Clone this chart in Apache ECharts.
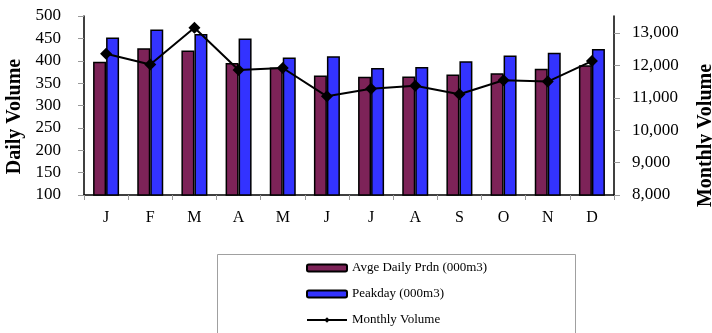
<!DOCTYPE html>
<html>
<head>
<meta charset="utf-8">
<script src="https://cdn.jsdelivr.net/npm/echarts@6/dist/echarts.min.js"></script>
<style>
html,body{margin:0;padding:0;background:#fff;}
#chart{width:712px;height:333px;}
</style>
</head>
<body>
<div id="chart"></div>
<script>
var months = ['J','F','M','A','M','J','J','A','S','O','N','D'];
var avgDaily = [398, 428, 423, 395, 385, 367, 364, 365, 369, 372, 382, 390];
var peakDay = [452, 470, 460, 450, 407, 410, 384, 386, 399, 412, 418, 426];
var monthlyVolume = [12360, 12030, 13160, 11860, 11920, 11045, 11280, 11370, 11110, 11540, 11500, 12135];
var leftTicks = {min: 100, max: 500, interval: 50};
var rightTicks = {min: 8000, max: 13525, interval: 1000};

var FONT = '"Liberation Serif", "Times New Roman", serif';
var chart = echarts.init(document.getElementById('chart'), null, {renderer: 'canvas'});
chart.setOption({
  animation: false,
  backgroundColor: '#fff',
  grid: {left: 84, right: 98, top: 16, bottom: 138, containLabel: false, outerBoundsMode: 'none'},
  legend: {
    orient: 'vertical',
    left: 306,
    top: 261,
    height: 72,
    padding: 0,
    itemWidth: 40,
    itemHeight: 7,
    itemGap: 12,
    textStyle: {fontFamily: FONT, fontSize: 13, lineHeight: 14, color: '#000'},
    data: ['Avge Daily Prdn (000m3)', 'Peakday (000m3)', 'Monthly Volume']
  },
  graphic: [{
    type: 'rect',
    shape: {x: 217.5, y: 254.5, width: 358, height: 100},
    style: {fill: 'none', stroke: '#a0a0a0', lineWidth: 1},
    silent: true
  }],
  xAxis: {
    type: 'category',
    data: months,
    boundaryGap: true,
    axisLine: {lineStyle: {color: '#000', width: 1.5}},
    axisTick: {show: true, length: 5, lineStyle: {color: '#999'}},
    axisLabel: {fontFamily: FONT, fontSize: 16, color: '#000', margin: 15}
  },
  yAxis: [{
    type: 'value',
    min: leftTicks.min, max: leftTicks.max, interval: leftTicks.interval,
    name: 'Daily Volume',
    nameLocation: 'middle',
    nameGap: 58,
    nameTextStyle: {fontFamily: FONT, fontSize: 20, fontWeight: 'bold', color: '#000', padding: [0, 22, 0, 0]},
    axisLine: {show: true, lineStyle: {color: '#000', width: 1.5}},
    axisTick: {show: true, length: 6, lineStyle: {color: '#999'}},
    axisLabel: {fontFamily: FONT, fontSize: 17, color: '#000', margin: 23},
    splitLine: {show: false}
  }, {
    type: 'value',
    position: 'right',
    min: rightTicks.min, max: rightTicks.max, interval: rightTicks.interval,
    name: 'Monthly Volume',
    nameLocation: 'middle',
    nameGap: 82,
    nameRotate: 90,
    nameTextStyle: {fontFamily: FONT, fontSize: 20, fontWeight: 'bold', color: '#000', padding: [0, 60, 0, 0]},
    axisLine: {show: true, lineStyle: {color: '#000', width: 1.5}},
    axisTick: {show: true, length: 6, lineStyle: {color: '#999'}},
    axisLabel: {fontFamily: FONT, fontSize: 17, color: '#000', margin: 18, showMaxLabel: false,
      formatter: function (v) { return v.toLocaleString('en-US'); }},
    splitLine: {show: false}
  }],
  series: [{
    name: 'Avge Daily Prdn (000m3)',
    type: 'bar',
    data: avgDaily,
    barWidth: 13,
    barGap: '0%',
    itemStyle: {color: '#7d2358', borderColor: '#000', borderWidth: 1.5}
  }, {
    name: 'Peakday (000m3)',
    type: 'bar',
    data: peakDay,
    barWidth: 13,
    barGap: '0%',
    itemStyle: {color: '#3333ff', borderColor: '#000', borderWidth: 1.5}
  }, {
    name: 'Monthly Volume',
    type: 'line',
    yAxisIndex: 1,
    data: monthlyVolume,
    symbol: 'diamond',
    symbolSize: 12,
    z: 5,
    lineStyle: {color: '#000', width: 2},
    itemStyle: {color: '#000'}
  }]
});
</script>
</body>
</html>
